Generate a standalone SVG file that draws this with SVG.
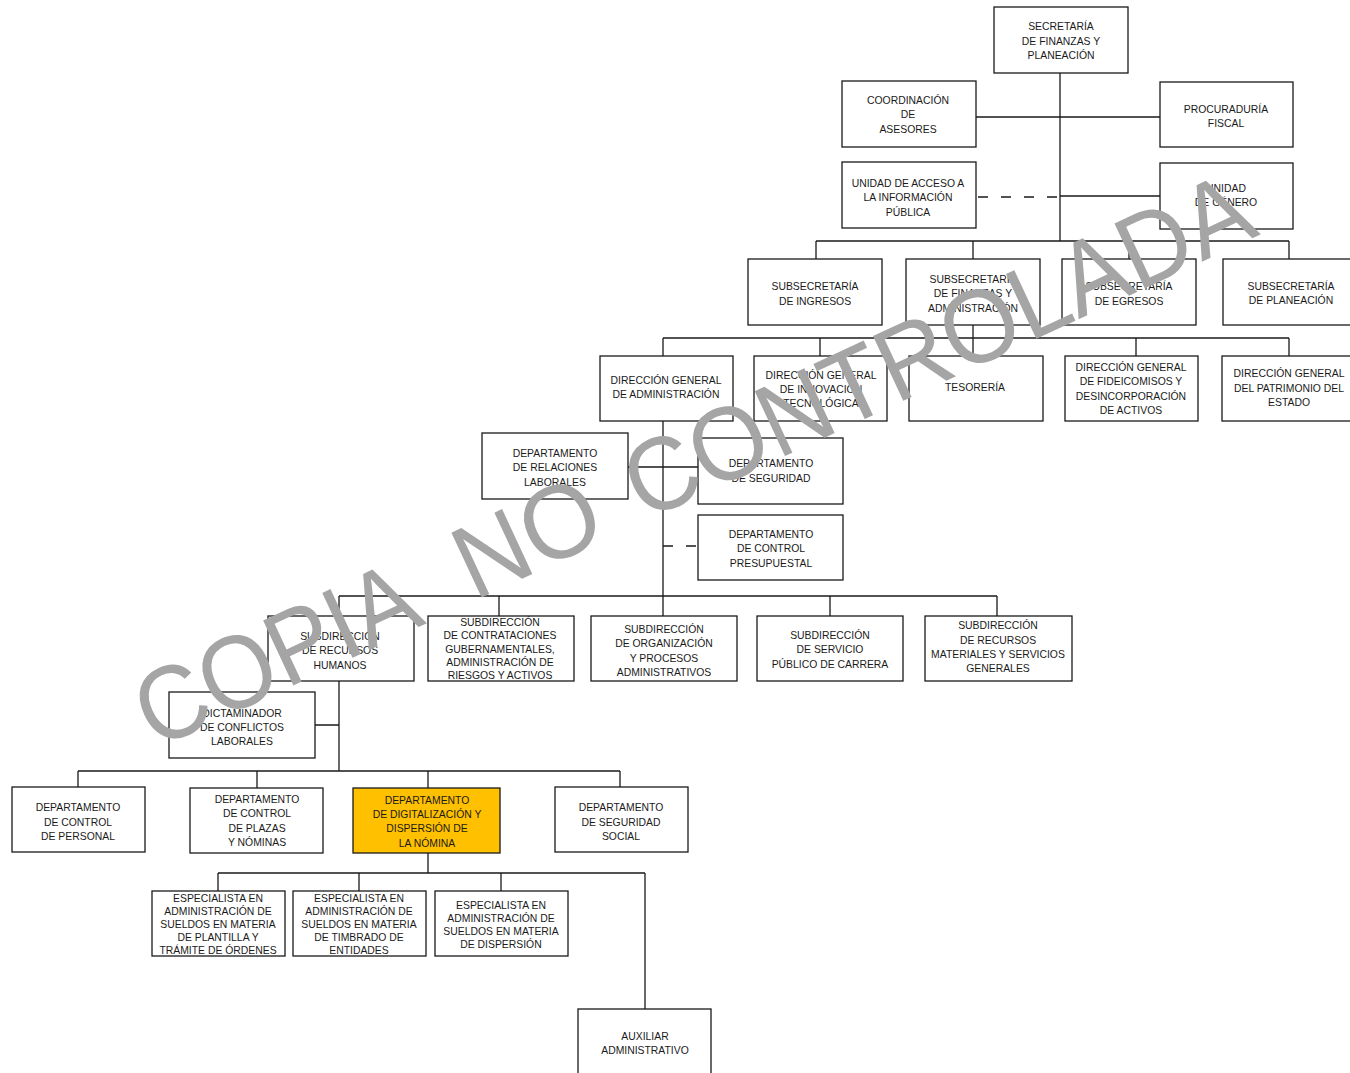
<svg xmlns="http://www.w3.org/2000/svg" width="1350" height="1073" viewBox="0 0 1350 1073">
<style>
.box{fill:#fff;stroke:#1a1a1a;stroke-width:1.3}
.hl{fill:#FFC000}
.t{font-family:"Liberation Sans",Arial,sans-serif;font-size:10.4px;fill:#1a1a1a;text-anchor:middle;dominant-baseline:central}
.c{fill:none;stroke:#1a1a1a;stroke-width:1.3}
.d{fill:none;stroke:#1a1a1a;stroke-width:1.3;stroke-dasharray:10 13}
.wm{font-family:"Liberation Sans",Arial,sans-serif;font-size:104px;fill:#a5a5a5;text-anchor:start}
</style>
<rect width="1350" height="1073" fill="#fff"/>
<g id="connectors">
<path class="c" d="M1060,73V241M976,117H1160M1060,196H1160"/>
<path class="d" d="M978,197H1060"/>
<path class="c" d="M816,241H1289M816,241V259M973,241V259M1129,241V259M1289,241V259"/>
<path class="c" d="M973,325V356M663,338H1289M663,338V356M820,338V356M1136,338V356M1289,338V356"/>
<path class="c" d="M663,421V616M628,467H698"/>
<path class="d" d="M663,546H698"/>
<path class="c" d="M339,596H997M339,596V616M499,596V616M830,596V616M997,596V616"/>
<path class="c" d="M339,681V771M315,725H339M78,771H620M78,771V787M257,771V788M428,771V788M620,771V787"/>
<path class="c" d="M428,853V873M218,873H645M218,873V891M359,873V891M501,873V891M645,873V1009"/>
</g>
<g id="n1"><rect class="box" x="994" y="7" width="134" height="66"/><text class="t" x="1061" y="26">SECRETARÍA</text><text class="t" x="1061" y="41">DE FINANZAS Y</text><text class="t" x="1061" y="55">PLANEACIÓN</text></g>
<g id="n2"><rect class="box" x="842" y="81" width="134" height="66"/><text class="t" x="908" y="100">COORDINACIÓN</text><text class="t" x="908" y="114">DE</text><text class="t" x="908" y="129">ASESORES</text></g>
<g id="n3"><rect class="box" x="1160" y="82" width="133" height="65"/><text class="t" x="1226" y="109">PROCURADURÍA</text><text class="t" x="1226" y="123">FISCAL</text></g>
<g id="n4"><rect class="box" x="842" y="162" width="134" height="66"/><text class="t" x="908" y="183">UNIDAD DE ACCESO A</text><text class="t" x="908" y="197">LA INFORMACIÓN</text><text class="t" x="908" y="212">PÚBLICA</text></g>
<g id="n5"><rect class="box" x="1160" y="163" width="133" height="66"/><text class="t" x="1226" y="188">UNIDAD</text><text class="t" x="1226" y="202">DE GÉNERO</text></g>
<g id="n6"><rect class="box" x="748" y="259" width="134" height="66"/><text class="t" x="815" y="286">SUBSECRETARÍA</text><text class="t" x="815" y="301">DE INGRESOS</text></g>
<g id="n7"><rect class="box" x="906" y="259" width="134" height="66"/><text class="t" x="973" y="279">SUBSECRETARÍA</text><text class="t" x="973" y="293">DE FINANZAS Y</text><text class="t" x="973" y="308">ADMINISTRACIÓN</text></g>
<g id="n8"><rect class="box" x="1062" y="259" width="134" height="66"/><text class="t" x="1129" y="286">SUBSECRETARÍA</text><text class="t" x="1129" y="301">DE EGRESOS</text></g>
<g id="n9"><rect class="box" x="1223" y="259" width="134" height="66"/><text class="t" x="1291" y="286">SUBSECRETARÍA</text><text class="t" x="1291" y="300">DE PLANEACIÓN</text></g>
<g id="n10"><rect class="box" x="600" y="356" width="133" height="65"/><text class="t" x="666" y="380">DIRECCIÓN GENERAL</text><text class="t" x="666" y="394">DE ADMINISTRACIÓN</text></g>
<g id="n11"><rect class="box" x="754" y="356" width="133" height="65"/><text class="t" x="821" y="375">DIRECCIÓN GENERAL</text><text class="t" x="821" y="389">DE INNOVACIÓN</text><text class="t" x="821" y="403">TECNOLÓGICA</text></g>
<g id="n12"><rect class="box" x="909" y="356" width="134" height="65"/><text class="t" x="975" y="387">TESORERÍA</text></g>
<g id="n13"><rect class="box" x="1065" y="356" width="133" height="65"/><text class="t" x="1131" y="367">DIRECCIÓN GENERAL</text><text class="t" x="1131" y="381">DE FIDEICOMISOS Y</text><text class="t" x="1131" y="396">DESINCORPORACIÓN</text><text class="t" x="1131" y="410">DE ACTIVOS</text></g>
<g id="n14"><rect class="box" x="1222" y="356" width="134" height="65"/><text class="t" x="1289" y="373">DIRECCIÓN GENERAL</text><text class="t" x="1289" y="388">DEL PATRIMONIO DEL</text><text class="t" x="1289" y="402">ESTADO</text></g>
<g id="n15"><rect class="box" x="482" y="433" width="146" height="66"/><text class="t" x="555" y="453">DEPARTAMENTO</text><text class="t" x="555" y="467">DE RELACIONES</text><text class="t" x="555" y="482">LABORALES</text></g>
<g id="n16"><rect class="box" x="698" y="438" width="145" height="66"/><text class="t" x="771" y="463">DEPARTAMENTO</text><text class="t" x="771" y="478">DE SEGURIDAD</text></g>
<g id="n17"><rect class="box" x="698" y="515" width="145" height="65"/><text class="t" x="771" y="534">DEPARTAMENTO</text><text class="t" x="771" y="548">DE CONTROL</text><text class="t" x="771" y="563">PRESUPUESTAL</text></g>
<g id="n18"><rect class="box" x="268" y="616" width="146" height="65"/><text class="t" x="340" y="636">SUBDIRECCIÓN</text><text class="t" x="340" y="650">DE RECURSOS</text><text class="t" x="340" y="665">HUMANOS</text></g>
<g id="n19"><rect class="box" x="428" y="616" width="146" height="65"/><text class="t" x="500" y="622">SUBDIRECCIÓN</text><text class="t" x="500" y="635">DE CONTRATACIONES</text><text class="t" x="500" y="649">GUBERNAMENTALES,</text><text class="t" x="500" y="662">ADMINISTRACIÓN DE</text><text class="t" x="500" y="675">RIESGOS Y ACTIVOS</text></g>
<g id="n20"><rect class="box" x="591" y="616" width="146" height="65"/><text class="t" x="664" y="629">SUBDIRECCIÓN</text><text class="t" x="664" y="643">DE ORGANIZACIÓN</text><text class="t" x="664" y="658">Y PROCESOS</text><text class="t" x="664" y="672">ADMINISTRATIVOS</text></g>
<g id="n21"><rect class="box" x="757" y="616" width="146" height="65"/><text class="t" x="830" y="635">SUBDIRECCIÓN</text><text class="t" x="830" y="649">DE SERVICIO</text><text class="t" x="830" y="664">PÚBLICO DE CARRERA</text></g>
<g id="n22"><rect class="box" x="925" y="616" width="147" height="65"/><text class="t" x="998" y="625">SUBDIRECCIÓN</text><text class="t" x="998" y="640">DE RECURSOS</text><text class="t" x="998" y="654">MATERIALES Y SERVICIOS</text><text class="t" x="998" y="668">GENERALES</text></g>
<g id="n23"><rect class="box" x="169" y="692" width="146" height="66"/><text class="t" x="242" y="713">DICTAMINADOR</text><text class="t" x="242" y="727">DE CONFLICTOS</text><text class="t" x="242" y="741">LABORALES</text></g>
<g id="n24"><rect class="box" x="12" y="787" width="133" height="65"/><text class="t" x="78" y="807">DEPARTAMENTO</text><text class="t" x="78" y="822">DE CONTROL</text><text class="t" x="78" y="836">DE PERSONAL</text></g>
<g id="n25"><rect class="box" x="190" y="788" width="133" height="65"/><text class="t" x="257" y="799">DEPARTAMENTO</text><text class="t" x="257" y="813">DE CONTROL</text><text class="t" x="257" y="828">DE PLAZAS</text><text class="t" x="257" y="842">Y NÓMINAS</text></g>
<g id="n26"><rect class="box hl" x="353" y="788" width="147" height="65"/><text class="t" x="427" y="800">DEPARTAMENTO</text><text class="t" x="427" y="814">DE DIGITALIZACIÓN Y</text><text class="t" x="427" y="828">DISPERSIÓN DE</text><text class="t" x="427" y="843">LA NÓMINA</text></g>
<g id="n27"><rect class="box" x="555" y="787" width="133" height="65"/><text class="t" x="621" y="807">DEPARTAMENTO</text><text class="t" x="621" y="822">DE SEGURIDAD</text><text class="t" x="621" y="836">SOCIAL</text></g>
<g id="n28"><rect class="box" x="152" y="891" width="133" height="65"/><text class="t" x="218" y="898">ESPECIALISTA EN</text><text class="t" x="218" y="911">ADMINISTRACIÓN DE</text><text class="t" x="218" y="924">SUELDOS EN MATERIA</text><text class="t" x="218" y="937">DE PLANTILLA Y</text><text class="t" x="218" y="950">TRÁMITE DE ÓRDENES</text></g>
<g id="n29"><rect class="box" x="293" y="891" width="133" height="65"/><text class="t" x="359" y="898">ESPECIALISTA EN</text><text class="t" x="359" y="911">ADMINISTRACIÓN DE</text><text class="t" x="359" y="924">SUELDOS EN MATERIA</text><text class="t" x="359" y="937">DE TIMBRADO DE</text><text class="t" x="359" y="950">ENTIDADES</text></g>
<g id="n30"><rect class="box" x="435" y="891" width="133" height="65"/><text class="t" x="501" y="905">ESPECIALISTA EN</text><text class="t" x="501" y="918">ADMINISTRACIÓN DE</text><text class="t" x="501" y="931">SUELDOS EN MATERIA</text><text class="t" x="501" y="944">DE DISPERSIÓN</text></g>
<g id="n31"><rect class="box" x="578" y="1009" width="133" height="66"/><text class="t" x="645" y="1036">AUXILIAR</text><text class="t" x="645" y="1050">ADMINISTRATIVO</text></g>
<g id="watermark" transform="translate(708,492) rotate(-25)">
<text class="wm" x="-610" y="0" textLength="300" lengthAdjust="spacingAndGlyphs">COPIA</text>
<text class="wm" x="-258" y="0" textLength="150" lengthAdjust="spacingAndGlyphs">NO</text>
<text class="wm" x="-70" y="0" textLength="680" lengthAdjust="spacingAndGlyphs">CONTROLADA</text>
</g>
</svg>
